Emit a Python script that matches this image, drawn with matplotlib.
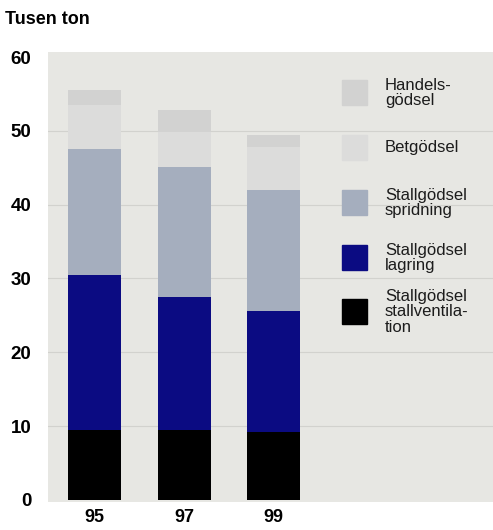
import matplotlib.pyplot as plt
from matplotlib.patches import Rectangle

plt.rcParams['font.family'] = ['Liberation Sans', 'DejaVu Sans']

# data (tusen ton)
years = ['95', '97', '99']
stallventilation = [9.5, 9.5, 9.2]
lagring = [21.0, 18.0, 16.4]
spridning = [17.0, 17.6, 16.4]
betgodsel = [6.0, 4.7, 5.8]
handelsgodsel = [2.0, 3.0, 1.7]

series = [stallventilation, lagring, spridning, betgodsel, handelsgodsel]
labels = ['Stallgödsel\nstallventila-\ntion', 'Stallgödsel\nlagring',
          'Stallgödsel\nspridning', 'Betgödsel', 'Handels-\ngödsel']
colors = ['#000000', '#0b0b82', '#a5aebe', '#dcdcdb', '#d2d2d1']

fig = plt.figure(figsize=(4.93, 5.30), dpi=100)
ax = fig.add_axes([48/493, 1 - 502/530, 1 - 48/493, 450/530])
ax.set_facecolor('#e7e7e3')

x = range(len(years))
bottom = [0, 0, 0]
for vals, col in zip(series, colors):
    ax.bar(x, vals, width=0.59, bottom=bottom, color=col, zorder=3)
    bottom = [b + v for b, v in zip(bottom, vals)]

ax.set_xlim(-0.52, 4.45)
ax.set_ylim(-0.3, 60.7)
ax.set_yticks(range(0, 61, 10))
ax.set_xticks(list(x))
ax.set_xticklabels(years)
for y in range(10, 60, 10):
    ax.axhline(y, color='#d2d2ce', lw=0.8, zorder=1)
ax.tick_params(length=0, labelsize=13.5, pad=12)
ax.tick_params(axis='x', labelsize=13, pad=5)
for t in ax.get_xticklabels() + ax.get_yticklabels():
    t.set_fontweight('bold')
for s in ax.spines.values():
    s.set_visible(False)

fig.text(5/493, 1 - 20/530, 'Tusen ton', fontsize=13, fontweight='bold',
         va='center', ha='left')

# legend drawn by hand, top item first
leg_y = [93, 148, 203, 258, 312]
for yc, lab, col in zip(leg_y, labels[::-1], colors[::-1]):
    fig.patches.append(Rectangle((342/493, 1 - (yc + 12)/530), 25/493, 25/530,
                                 transform=fig.transFigure, color=col))
    fig.text(385/493, 1 - yc/530, lab, fontsize=12, va='center', ha='left',
             linespacing=1.05, color='#1c1c1c')

fig.savefig('out.png', dpi=100)
